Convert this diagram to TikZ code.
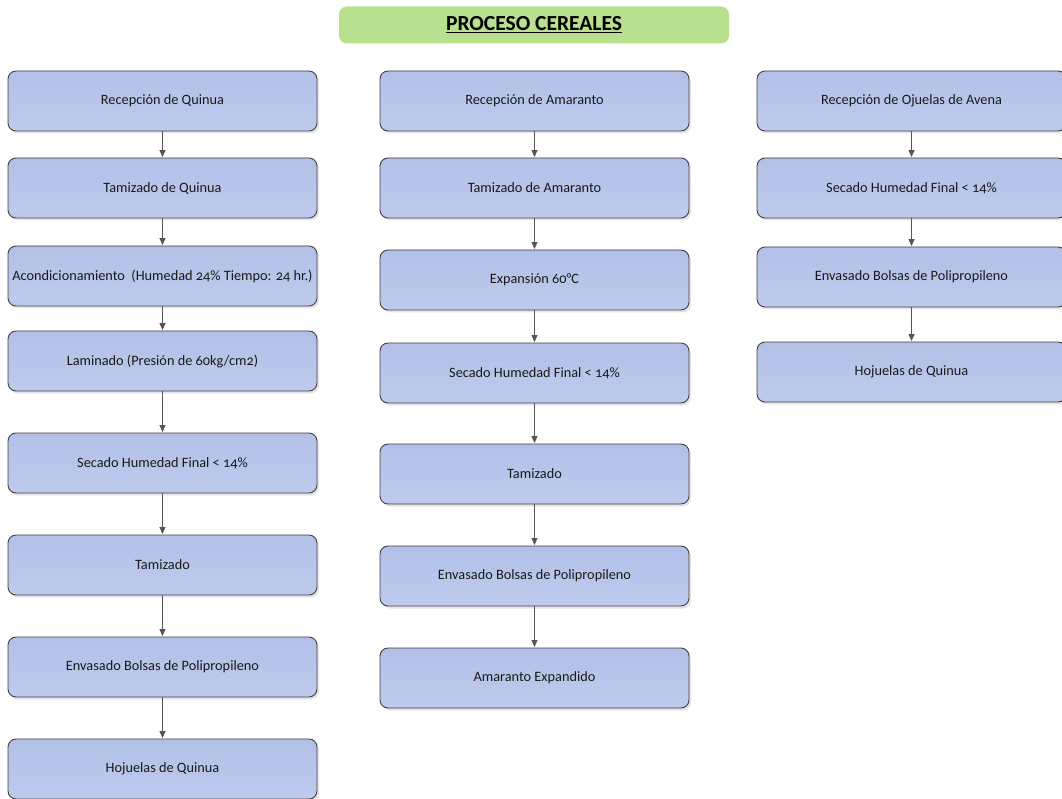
\documentclass[tikz,border=0pt]{standalone}
\usepackage{fontspec}
\setmainfont{Carlito}[Numbers=OldStyle]
\usetikzlibrary{shadows,arrows.meta}
\definecolor{boxtop}{HTML}{B2C0E7}
\definecolor{boxbot}{HTML}{BECBEE}
\definecolor{boxline}{HTML}{404040}
\definecolor{titlegreen}{HTML}{B8E08F}
\definecolor{arrgray}{HTML}{555555}
\tikzset{
  stepbox/.style={draw=boxline, line width=0.9pt, rounded corners=8pt,
    top color=boxtop, bottom color=boxbot,
    minimum width=309pt, minimum height=60pt, inner sep=0pt,
    font=\fontsize{14.3}{16}\selectfont, text=black!90,
    drop shadow={shadow xshift=2pt, shadow yshift=-2.5pt, fill=black!20, opacity=0.5}},
  titlebox/.style={fill=titlegreen, rounded corners=8pt, minimum width=390pt,
    minimum height=37pt, inner sep=0pt, font=\fontsize{21.5}{24}\selectfont\bfseries},
  arr/.style={draw=arrgray, line width=0.8pt, -{Triangle[length=7pt,width=6pt]}, shorten >=0.5pt}
}
\begin{document}
\begin{tikzpicture}[x=1pt,y=-1pt]
\useasboundingbox (0,0) rectangle (1062,799);
\node[titlebox] (title) at (534,25) {\underline{PROCESO CEREALES}};
% column 1
\node[stepbox] (a1) at (162.5,101) {Recepción de Quinua};
\node[stepbox] (a2) at (162.5,188) {Tamizado de Quinua};
\node[stepbox] (a3) at (162.5,276) {Acondicionamiento\ \ (Humedad 24\% Tiempo: 24 hr.)};
\node[stepbox] (a4) at (162.5,361) {Laminado (Presión de 60kg/cm2)};
\node[stepbox] (a5) at (162.5,463) {Secado Humedad Final < 14\%};
\node[stepbox] (a6) at (162.5,565) {Tamizado};
\node[stepbox] (a7) at (162.5,667) {Envasado Bolsas de Polipropileno};
\node[stepbox] (a8) at (162.5,769) {Hojuelas de Quinua};
% column 2
\node[stepbox] (b1) at (534.5,101) {Recepción de Amaranto};
\node[stepbox] (b2) at (534.5,188) {Tamizado de Amaranto};
\node[stepbox] (b3) at (534.5,280) {Expansión 60°C};
\node[stepbox] (b4) at (534.5,373) {Secado Humedad Final < 14\%};
\node[stepbox] (b5) at (534.5,474) {Tamizado};
\node[stepbox] (b6) at (534.5,576) {Envasado Bolsas de Polipropileno};
\node[stepbox] (b7) at (534.5,678) {Amaranto Expandido};
% column 3
\node[stepbox] (c1) at (911.5,101) {Recepción de Ojuelas de Avena};
\node[stepbox] (c2) at (911.5,188) {Secado Humedad Final < 14\%};
\node[stepbox] (c3) at (911.5,277) {Envasado Bolsas de Polipropileno};
\node[stepbox] (c4) at (911.5,372) {Hojuelas de Quinua};
% connectors
\foreach \s/\t in {a1/a2,a2/a3,a3/a4,a4/a5,a5/a6,a6/a7,a7/a8,
                   b1/b2,b2/b3,b3/b4,b4/b5,b5/b6,b6/b7,
                   c1/c2,c2/c3,c3/c4}
  \draw[arr] (\s.south) -- (\t.north);
\end{tikzpicture}
\end{document}
